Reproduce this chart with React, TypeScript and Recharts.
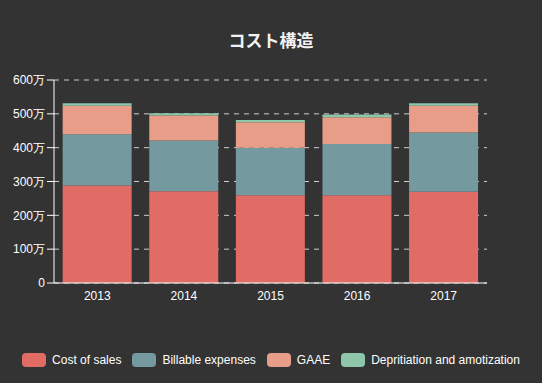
import { BarChart, Bar, XAxis, YAxis, CartesianGrid } from "recharts";

const years = ["2013", "2014", "2015", "2016", "2017"];
const costOfSales = [2880000, 2710000, 2590000, 2590000, 2700000];
const billableExpenses = [1520000, 1500000, 1410000, 1520000, 1750000];
const gaae = [840000, 740000, 750000, 790000, 790000];
const depreciation = [70000, 70000, 70000, 80000, 70000];
const yTicks = [0, 1000000, 2000000, 3000000, 4000000, 5000000, 6000000];

const series = [
  { key: "cost", name: "Cost of sales", color: "#e06c65" },
  { key: "billable", name: "Billable expenses", color: "#74999f" },
  { key: "gaae", name: "GAAE", color: "#e79d87" },
  { key: "dep", name: "Depritiation and amotization", color: "#8dc6a8" },
];

const data = years.map((year, i) => ({
  year,
  cost: costOfSales[i],
  billable: billableExpenses[i],
  gaae: gaae[i],
  dep: depreciation[i],
}));

const font = "'Liberation Sans', Arial, sans-serif";

const formatMan = (v: number) => (v === 0 ? "0" : `${v / 10000}万`);

export default function App() {
  return (
    <div
      style={{
        position: "absolute",
        top: 0,
        left: 0,
        width: 542,
        height: 383,
        background: "#333333",
        fontFamily: font,
      }}
    >
      <div
        style={{
          position: "absolute",
          top: 27,
          left: 0,
          width: 542,
          textAlign: "center",
          color: "#f2f2f2",
          fontSize: 17,
          fontWeight: "bold",
          fontFamily: "'Noto Sans CJK JP', sans-serif",
        }}
      >
        コスト構造
      </div>
      <BarChart
        width={542}
        height={383}
        data={data}
        margin={{ top: 80, right: 55, left: 0, bottom: 70 }}
        barCategoryGap="10%"
      >
        <CartesianGrid
          vertical={false}
          stroke="#cfcfcf"
          strokeDasharray="5 5"
        />
        <XAxis
          dataKey="year"
          stroke="#ffffff"
          tickLine={false}
          height={30}
          tick={{ fill: "#ffffff", fontSize: 12, fontFamily: font }}
        />
        <YAxis
          width={54}
          stroke="#ffffff"
          domain={[0, 6000000]}
          ticks={yTicks}
          tickFormatter={formatMan}
          tickSize={7}
          tick={{ fill: "#ffffff", fontSize: 12, fontFamily: font }}
        />
        {series.map((s) => (
          <Bar
            key={s.key}
            dataKey={s.key}
            name={s.name}
            stackId="a"
            fill={s.color}
            isAnimationActive={false}
          />
        ))}
      </BarChart>
      <div
        style={{
          position: "absolute",
          top: 353,
          left: 0,
          width: 542,
          display: "flex",
          justifyContent: "center",
          alignItems: "center",
          color: "#ffffff",
          fontSize: 12,
        }}
      >
        {series.map((s, i) => (
          <div
            key={s.key}
            style={{
              display: "flex",
              alignItems: "center",
              marginRight: i === series.length - 1 ? 0 : 11,
            }}
          >
            <span
              style={{
                display: "inline-block",
                width: 24,
                height: 14,
                borderRadius: 4,
                background: s.color,
                marginRight: 6,
              }}
            />
            {s.name}
          </div>
        ))}
      </div>
    </div>
  );
}
